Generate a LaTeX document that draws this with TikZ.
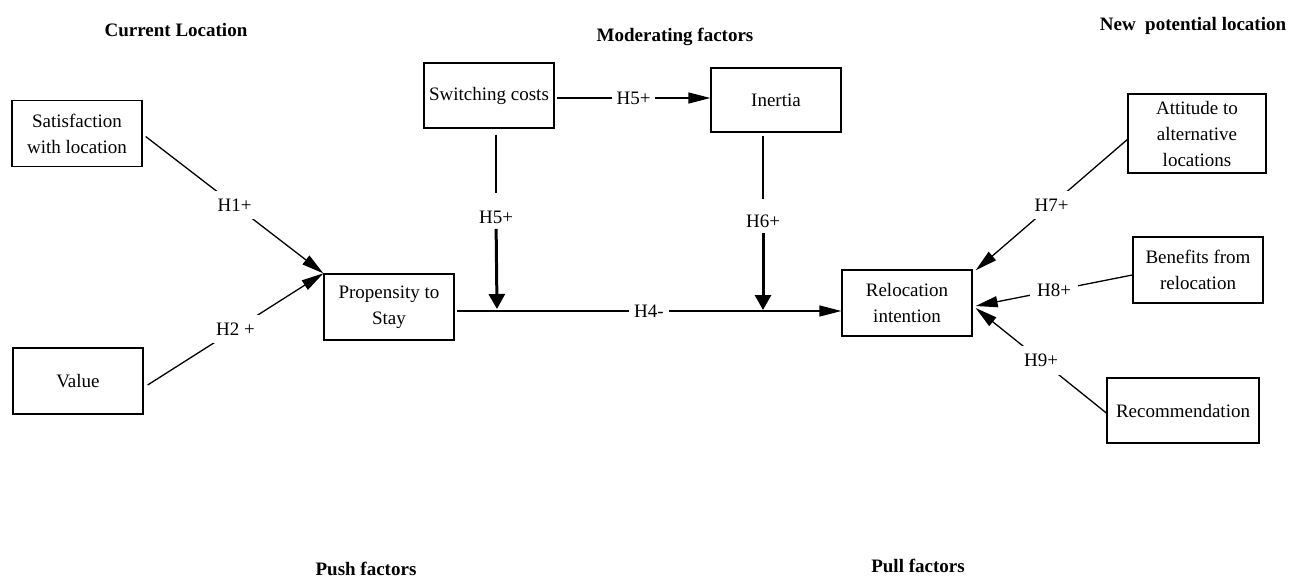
\documentclass[tikz,border=0pt]{standalone}
\usepackage{fontspec}
\setmainfont{Liberation Serif}
\usetikzlibrary{arrows.meta, calc}

\begin{document}
\begin{tikzpicture}[x=0.5pt, y=-0.5pt, font=\fontsize{9.5}{13}\selectfont, line width=0.65pt]
			\tikzstyle{factor}=[
			draw,
			rectangle,
			align=center,
			inner sep=0pt,
			minimum width=65pt,
			minimum height=33pt
			]
			\tikzstyle{hyp}=[fill=white, inner sep=2.5pt]
			\tikzstyle{slanted}=[hyp, inner xsep=4.5pt, inner ysep=4pt]
			\tikzstyle{heading}=[font=\fontsize{9.5}{13}\selectfont\bfseries, anchor=base]
			\tikzstyle{link}=[-{Triangle[length=11pt, width=5.5pt]}]
			\tikzstyle{moderate}=[line width=1.5pt, -{Triangle[length=7.5pt, width=8pt]}]
			\useasboundingbox (0,0) rectangle (1300,578);
			%
			\node[heading] (CUR) at (176,36) {Current Location};
			\node[heading] (MOD) at (675,41) {Moderating factors};
			\node[heading] (NEW) at (1193,30) {New~ potential location};
			\node[heading] (PUSH) at (366,575) {Push factors};
			\node[heading] (PULL) at (918,572) {Pull factors};
			%
			\node[factor] (SAT) at (77,133.5) {Satisfaction\\with location};
			\node[factor] (VAL) at (78,381) {Value};
			\node[factor] (PROP) at (389,307) {Propensity to\\Stay};
			\node[factor, minimum height=32.5pt] (SWITCH) at (489,95.5) {Switching costs};
			\node[factor, minimum height=32pt] (INERTIA) at (776,100) {Inertia};
			\node[factor, minimum width=69pt, minimum height=39.5pt] (ATT) at (1197,133.5) {Attitude to\\alternative\\locations};
			\node[factor] (BEN) at (1198,270) {Benefits from\\relocation};
			\node[factor, minimum width=76pt, minimum height=32.5pt] (REC) at (1183,410.5) {Recommendation};
			\node[factor] (RELOC) at (907,303) {Relocation\\intention};
			%
			\path [link] ($(SAT.east)+(3,3)$) edge node[slanted] {H1+} (PROP.north west);
			\path [link] ($(VAL.east)+(4,4)$) edge node[slanted] {H2 +} (PROP.north west);
			\path [link] ($(PROP.east)+(2,4)$) edge node[hyp] {H4-} ($(RELOC.west)+(0,8)$);
			\path [link] ($(SWITCH.east)+(2,2.5)$) edge node[hyp] {H5+} ($(INERTIA.west)+(0,-2)$);
			\path [link] ($(ATT.west)+(0,6)$) edge node[slanted] {H7+} ($(RELOC.north east)+(3,1)$);
			\path [link] ($(BEN.west)+(0,5)$) edge node[hyp, inner xsep=3.5pt] {H8+} ($(RELOC.east)+(3,3)$);
			\path [link] ($(REC.west)+(0,2.5)$) edge node[slanted] {H9+} ($(RELOC.east)+(3,5)$);
			%
			\coordinate (M5) at (497,309);
			\coordinate (M6) at (763,310);
			\node[hyp] (H5V) at (496,217) {H5+};
			\node[hyp] (H6V) at (763,221) {H6+};
			\draw [shorten <=3pt, shorten >=6pt] (SWITCH.south -| H5V) -- (H5V);
			\draw [moderate] (H5V) -- (M5);
			\draw [shorten <=1.5pt, shorten >=5pt] (INERTIA.south -| H6V) -- (H6V);
			\draw [moderate] (H6V) -- (M6);
\end{tikzpicture}
\end{document}
